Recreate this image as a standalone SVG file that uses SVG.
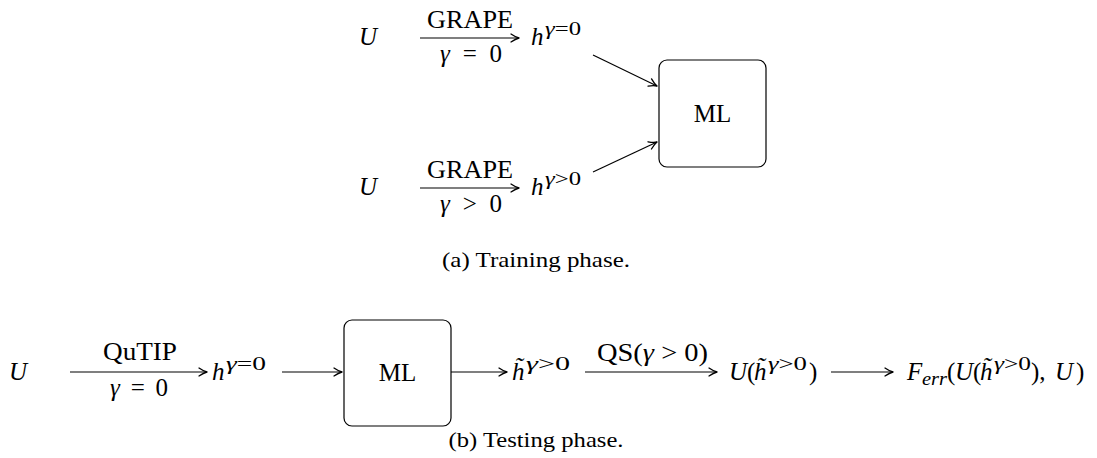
<svg xmlns="http://www.w3.org/2000/svg" width="1097" height="458" viewBox="0 0 1097 458">
<defs>
<style>
.t{font-family:"Liberation Serif","Times New Roman",serif;font-size:25px;fill:#000}
.i{font-style:italic}
.s{font-size:19px}
.cap{font-family:"Liberation Serif","Times New Roman",serif;font-size:22px;fill:#000}
.box{fill:#fff;stroke:#000;stroke-width:1.2}
.e{stroke:#000;stroke-width:1.2;fill:none}
.a{marker-end:url(#ah)}
</style>
<marker id="ah" markerUnits="userSpaceOnUse" markerWidth="12" markerHeight="10" viewBox="-9 -5 10 10" refX="0" refY="0" orient="auto" overflow="visible">
<path d="M-8,-4 Q-3.5,-0.9 0,0 Q-3.5,0.9 -8,4" fill="none" stroke="#000" stroke-width="1.3" stroke-linecap="round" stroke-linejoin="round"/>
</marker>
</defs>
<rect width="1097" height="458" fill="#fff"/>

<g id="connectors">
<line class="e a" x1="420" y1="38" x2="519" y2="38"/>
<line class="e a" x1="420" y1="188" x2="519" y2="188"/>
<line class="e a" x1="593" y1="55" x2="657" y2="86"/>
<line class="e a" x1="593" y1="172" x2="657" y2="142"/>
<line class="e a" x1="70" y1="372" x2="207" y2="372"/>
<line class="e a" x1="282" y1="372" x2="342" y2="372"/>
<line class="e a" x1="451" y1="372" x2="507" y2="372"/>
<line class="e a" x1="585" y1="372" x2="717" y2="372"/>
<line class="e a" x1="831" y1="372" x2="893" y2="372"/>
</g>

<g id="edge-labels">
<text class="t" x="470" y="28" text-anchor="middle" textLength="86" lengthAdjust="spacingAndGlyphs">GRAPE</text>
<text class="t" x="471" y="62" text-anchor="middle" textLength="62"><tspan class="i">γ</tspan> = 0</text>
<text class="t" x="470" y="178" text-anchor="middle" textLength="86" lengthAdjust="spacingAndGlyphs">GRAPE</text>
<text class="t" x="471" y="212" text-anchor="middle" textLength="62"><tspan class="i">γ</tspan> &gt; 0</text>
<text class="t" x="140" y="360" text-anchor="middle" textLength="74" lengthAdjust="spacingAndGlyphs">QuTIP</text>
<text class="t" x="139" y="396" text-anchor="middle" textLength="58"><tspan class="i">γ</tspan> = 0</text>
<text class="t" x="652.5" y="361" text-anchor="middle" textLength="111" lengthAdjust="spacingAndGlyphs">QS(<tspan class="i">γ</tspan> &gt; 0)</text>
</g>

<g id="n-U-top">
<text class="t i" x="359" y="45">U</text>
</g>
<g id="n-h-gamma0-top">
<text class="t i" x="531" y="45">h</text>
<text class="t s" x="545" y="35" textLength="36" lengthAdjust="spacingAndGlyphs"><tspan class="i">γ</tspan>=0</text>
</g>
<g id="n-U-mid">
<text class="t i" x="359" y="195">U</text>
</g>
<g id="n-h-gammapos">
<text class="t i" x="531" y="195">h</text>
<text class="t s" x="545" y="185" textLength="36" lengthAdjust="spacingAndGlyphs"><tspan class="i">γ</tspan>&gt;0</text>
</g>
<g id="n-ML-train">
<rect class="box" x="659" y="60" width="107" height="107" rx="8"/>
<text class="t" x="712.5" y="122" text-anchor="middle">ML</text>
</g>
<g id="caption-a">
<text class="cap" x="536" y="267" text-anchor="middle" textLength="188" lengthAdjust="spacingAndGlyphs">(a) Training phase.</text>
</g>

<g id="n-U-test">
<text class="t i" x="9" y="380">U</text>
</g>
<g id="n-h-gamma0-test">
<text class="t i" x="212" y="380">h</text>
<text class="t s" x="226" y="370" textLength="40" lengthAdjust="spacingAndGlyphs"><tspan class="i">γ</tspan>=0</text>
</g>
<g id="n-ML-test">
<rect class="box" x="344" y="320" width="107" height="106" rx="8"/>
<text class="t" x="397.5" y="381" text-anchor="middle">ML</text>
</g>
<g id="n-htilde">
<text class="t i" x="512" y="380">h̃</text>
<text class="t s" x="526" y="370" textLength="44" lengthAdjust="spacingAndGlyphs"><tspan class="i">γ</tspan>&gt;0</text>
</g>
<g id="n-U-htilde">
<text class="t" x="729" y="380"><tspan class="i">U</tspan><tspan x="747">(</tspan><tspan class="i" x="754">h̃</tspan><tspan x="809">)</tspan></text>
<text class="t s" x="768" y="370" textLength="39" lengthAdjust="spacingAndGlyphs"><tspan class="i">γ</tspan>&gt;0</text>
</g>
<g id="n-Ferr">
<text class="t" x="907" y="380"><tspan class="i">F</tspan><tspan x="947">(</tspan><tspan class="i" x="955">U</tspan><tspan x="973">(</tspan><tspan class="i" x="980">h̃</tspan><tspan x="1031">),</tspan><tspan class="i" x="1055">U</tspan><tspan x="1076">)</tspan></text>
<text class="t s i" x="922" y="385" textLength="25" lengthAdjust="spacingAndGlyphs">err</text>
<text class="t s" x="994" y="370" textLength="37" lengthAdjust="spacingAndGlyphs"><tspan class="i">γ</tspan>&gt;0</text>
</g>
<g id="caption-b">
<text class="cap" x="536" y="447" text-anchor="middle" textLength="175" lengthAdjust="spacingAndGlyphs">(b) Testing phase.</text>
</g>
</svg>
